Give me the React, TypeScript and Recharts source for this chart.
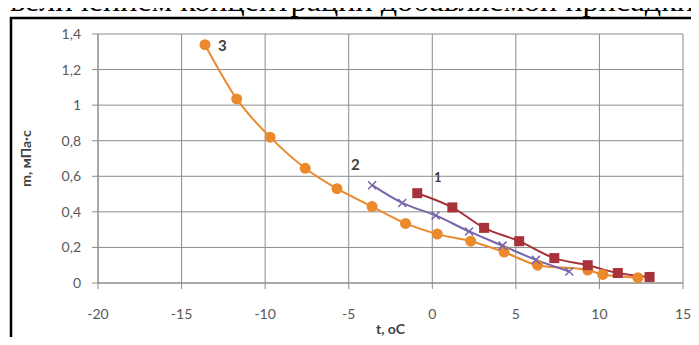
import {
  ComposedChart,
  Line,
  XAxis,
  YAxis,
  CartesianGrid,
  Label,
} from 'recharts'

// curve 1 (red squares)
const s1X = [-0.9, 1.2, 3.1, 5.2, 7.3, 9.3, 11.1, 13.0]
const s1Y = [0.505, 0.425, 0.31, 0.235, 0.14, 0.1, 0.056, 0.034]
// curve 2 (purple crosses)
const s2X = [-3.6, -1.8, 0.2, 2.2, 4.2, 6.2, 8.2]
const s2Y = [0.55, 0.45, 0.38, 0.29, 0.21, 0.13, 0.065]
// curve 3 (orange circles)
const s3X = [-13.6, -11.7, -9.7, -7.6, -5.7, -3.6, -1.6, 0.3, 2.3, 4.3, 6.3, 9.3, 10.2, 12.3]
const s3Y = [1.34, 1.035, 0.82, 0.645, 0.53, 0.43, 0.335, 0.275, 0.235, 0.174, 0.1, 0.073, 0.048, 0.03]

const xTicks = [-20, -15, -10, -5, 0, 5, 10, 15]
const yTicks = [0, 0.2, 0.4, 0.6, 0.8, 1, 1.2, 1.4]

const toRows = (xs: number[], ys: number[]) => xs.map((x, i) => ({ x, y: ys[i] }))
const data1 = toRows(s1X, s1Y)
const data2 = toRows(s2X, s2Y)
const data3 = toRows(s3X, s3Y)

const RED = '#a8323a'
const PURPLE = '#7864aa'
const ORANGE = '#ea8a2c'

const FONT = 'Lato, Open Sans, sans-serif'
const tickStyle = { fill: '#595959', fontSize: 14, fontFamily: FONT }
const titleStyle = { fill: '#404040', fontSize: 14, fontWeight: 'bold', fontFamily: FONT }

// eslint-disable-next-line @typescript-eslint/no-explicit-any
const SquareDot = (p: any) => (
  <rect key={p.index} x={p.cx - 5} y={p.cy - 5} width={10} height={10} fill={RED} />
)
// eslint-disable-next-line @typescript-eslint/no-explicit-any
const CircleDot = (p: any) => <circle key={p.index} cx={p.cx} cy={p.cy} r={5.5} fill={ORANGE} />
// eslint-disable-next-line @typescript-eslint/no-explicit-any
const CrossDot = (p: any) => (
  <path
    key={p.index}
    d={`M${p.cx - 4},${p.cy - 4}L${p.cx + 4},${p.cy + 4}M${p.cx - 4},${p.cy + 4}L${p.cx + 4},${p.cy - 4}`}
    stroke={PURPLE}
    strokeWidth={1.5}
  />
)

export default function App() {
  return (
    <div style={{ position: 'relative', width: 699, height: 345, margin: -8, background: '#fff', overflow: 'hidden' }}>
      <svg width={699} height={345} style={{ position: 'absolute', left: 0, top: 0 }}>
        <text x={-6} y={11} fontFamily="Liberation Serif, serif" fontSize={29} textLength={700} lengthAdjust="spacingAndGlyphs" fill="#000">
          увеличением концентрации добавляемой присадки
        </text>
        <path d="M11,345V18H697V345" fill="none" stroke="#000" strokeWidth={2.5} />
      </svg>
      <div style={{ position: 'absolute', left: 0, top: 0 }}>
        <ComposedChart width={699} height={345} margin={{ top: 34, right: 16, bottom: 12, left: 38 }}>
          <CartesianGrid stroke="#8c8c8c" strokeWidth={1} />
          <XAxis
            type="number"
            dataKey="x"
            domain={[-20, 15]}
            ticks={xTicks}
            interval={0}
            allowDataOverflow
            tick={tickStyle}
            tickLine={{ stroke: '#8c8c8c' }}
            axisLine={{ stroke: '#8c8c8c' }}
            tickSize={6}
            tickMargin={20}
            height={50}
          >
            <Label value="t, oC" position="insideBottom" offset={-1} style={titleStyle} />
          </XAxis>
          <YAxis
            type="number"
            dataKey="y"
            domain={[0, 1.4]}
            ticks={yTicks}
            interval={0}
            tick={tickStyle}
            tickLine={{ stroke: '#8c8c8c' }}
            axisLine={{ stroke: '#8c8c8c' }}
            tickSize={6}
            tickMargin={11}
            width={60}
            tickFormatter={(v: number) => String(v).replace('.', ',')}
          >
            <Label
              value="m, мПа·с"
              angle={-90}
              position="insideLeft"
              offset={-12}
              style={{ ...titleStyle, textAnchor: 'middle' }}
            />
          </YAxis>
          <Line data={data3} dataKey="y" type="monotone" stroke={ORANGE} strokeWidth={2} dot={CircleDot} isAnimationActive={false} />
          <Line data={data2} dataKey="y" type="monotone" stroke={PURPLE} strokeWidth={2} dot={CrossDot} isAnimationActive={false} />
          <Line data={data1} dataKey="y" type="monotone" stroke={RED} strokeWidth={2} dot={SquareDot} isAnimationActive={false} />
        </ComposedChart>
      </div>
      <svg width={699} height={345} style={{ position: 'absolute', left: 0, top: 0, pointerEvents: 'none' }}>
        <g fontFamily={FONT} fontSize={15} fontWeight="bold" fill="#404040">
          <text x={218} y={51}>3</text>
          <text x={351} y={170}>2</text>
          <text x={434} y={182} fontSize={13}>1</text>
        </g>
      </svg>
    </div>
  )
}
